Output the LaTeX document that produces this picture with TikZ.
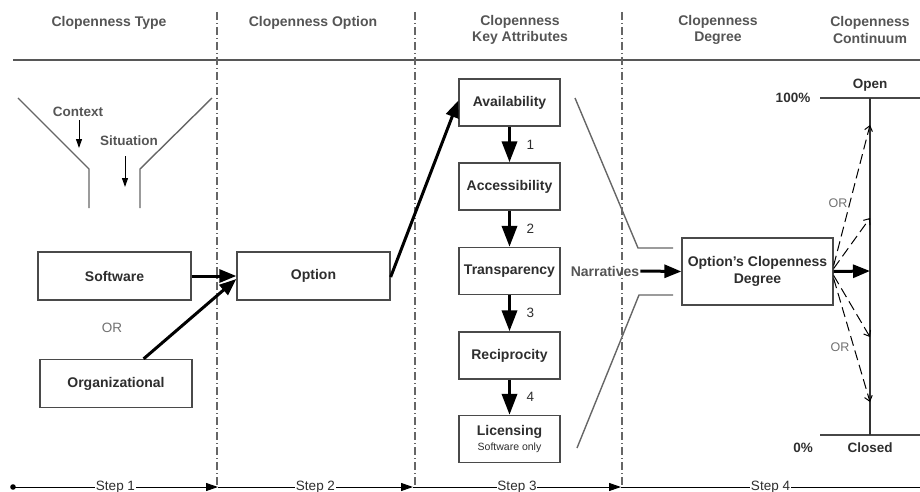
\documentclass[tikz,border=0pt]{standalone}
\usepackage{fontspec}
\setmainfont{Liberation Sans}
\usetikzlibrary{arrows.meta,calc}
\definecolor{hdr}{HTML}{555555}
\definecolor{boxtxt}{HTML}{2E2E2E}
\definecolor{boxline}{HTML}{4A4A4A}
\definecolor{ortxt}{HTML}{707070}
\definecolor{grayline}{HTML}{666666}
\begin{document}
\begin{tikzpicture}[x=1pt,y=-1pt,
  every node/.style={font=\fontsize{14}{16}\selectfont},
  hdrtext/.style={text=hdr,font=\fontsize{14}{16.5}\selectfont\bfseries,align=center},
  box/.style={draw=boxline,line width=1.3pt,fill=white,text=boxtxt,font=\fontsize{14}{16}\selectfont\bfseries,inner sep=0pt,align=center},
  ortext/.style={text=ortxt,font=\fontsize{13.5}{15}\selectfont},
  plain/.style={text=boxtxt,font=\fontsize{13.5}{15}\selectfont},
  bigarrow/.style={line width=3pt,-{Triangle[length=17pt,width=13pt]}},
  vertarrow/.style={line width=3.5pt,-{Triangle[length=21pt,width=15pt]}},
  dasharrow/.style={line width=1pt,dash pattern=on 10pt off 5pt,-{Straight Barb[length=5pt,width=8pt]}},
  divider/.style={grayline,line width=1.1pt,dash pattern=on 8pt off 3pt on 1pt off 3pt},
  steparrow/.style={line width=1pt,-{Triangle[length=12pt,width=8pt]}},
  steplabel/.style={fill=white,inner sep=0.5pt,text=boxtxt,font=\fontsize{13.5}{15}\selectfont},
  gline/.style={grayline,line width=1.4pt}]
\useasboundingbox (0,0) rectangle (920,492);

% header texts
\node[hdrtext] (h1) at (109,23) {Clopenness Type};
\node[hdrtext] (h2) at (313,23) {Clopenness Option};
\node[hdrtext] (h3) at (520,30) {Clopenness\\Key Attributes};
\node[hdrtext] (h4) at (718,30) {Clopenness\\Degree};
\node[hdrtext] (h5) at (870,30) {Clopenness\\Continuum};
\draw[grayline!85!black,line width=2pt] (13,60) -- (920,60);

% dividers
\draw[divider] (217,12) -- (217,487);
\draw[divider] (415,12) -- (415,487);
\draw[divider] (622,12) -- (622,487);

% funnel
\draw[gline] (18,98) -- (89,169) -- (89,208);
\draw[gline] (212,98) -- (140,169) -- (140,208);
\node[plain,font=\fontsize{13.5}{15}\selectfont\bfseries,text=hdr] (ctx) at (78,112) {Context};
\node[plain,font=\fontsize{13.5}{15}\selectfont\bfseries,text=hdr] (sit) at (129,141) {Situation};
\coordinate (ctxend) at (79,148);
\coordinate (sitstart) at (125,156);
\coordinate (sitend) at (125,187);
\draw[line width=1pt,-{Triangle[length=9pt,width=6pt]}] (ctx.south -| ctxend) -- (ctxend);
\draw[line width=1pt,-{Triangle[length=9pt,width=6pt]}] (sitstart) -- (sitend);

% type boxes
\node[box,minimum width=153pt,minimum height=48pt] (sw) at (114.5,276) {Software};
\node[ortext] (or1) at (112,328) {OR};
\node[box,minimum width=152pt,minimum height=48pt] (org) at (116,383.5) {Organizational};

% option
\node[box,minimum width=153pt,minimum height=48pt] (opt) at (313.5,276) {Option};

% key attributes
\node[box,minimum width=101pt,minimum height=47pt] (av) at (509.5,102.5) {Availability};
\node[box,minimum width=101pt,minimum height=47pt] (acc) at (509.5,186.5) {Accessibility};
\node[box,minimum width=101pt,minimum height=47pt] (tr) at (509.5,271) {Transparency};
\node[box,minimum width=101pt,minimum height=47pt] (rec) at (509.5,355.5) {Reciprocity};
\node[box,minimum width=101pt,minimum height=47pt] (lic) at (509.5,439) {Licensing\\[-1pt]{\fontsize{10.5}{12}\selectfont\mdseries Software only}};

\draw[vertarrow] (av.south) -- (acc.north) node[midway,right=12pt,plain] (n1) {1};
\draw[vertarrow] (acc.south) -- (tr.north) node[midway,right=12pt,plain] (n2) {2};
\draw[vertarrow] (tr.south) -- (rec.north) node[midway,right=12pt,plain] (n3) {3};
\draw[vertarrow] (rec.south) -- (lic.north) node[midway,right=12pt,plain] (n4) {4};

% arrows type -> option -> availability
\draw[bigarrow] (sw.east) -- (opt.west);
\coordinate (orgtop) at ($(org.north west)!0.68!(org.north east)$);
\draw[bigarrow] (orgtop) -- ([yshift=-3pt]opt.west);
\draw[bigarrow] ([yshift=-1pt]opt.east) -- ([yshift=2pt]av.west);

% brackets
\draw[gline] (575,98) -- (638,248) -- (673,248);
\draw[gline] (673,295) -- (639,295) -- (577,448);

% degree
\node[box,minimum width=151pt,minimum height=67pt,font=\fontsize{14}{16.5}\selectfont\bfseries] (ocd) at (757.5,271.5) {Option’s Clopenness\\Degree};
\node[plain,font=\fontsize{14}{16}\selectfont\bfseries,text=hdr,inner sep=1pt] (nar) at (605,271) {Narratives};
\draw[line width=3pt,-{Triangle[length=17pt,width=13pt]}] (nar.east) -- (ocd.west);

% continuum
\coordinate (ctop) at (870,98);
\coordinate (cbot) at (870,435);
\coordinate (cmid) at (870,271);
\draw[grayline!70!black,line width=1.3pt] (820,98) -- (920,98);
\draw[grayline!70!black,line width=1.3pt] (820,435) -- (920,435);
\draw[grayline!50!black,line width=1.3pt] (ctop) -- (cbot);
\node[plain,font=\fontsize{13.5}{15}\selectfont\bfseries] (open) at (870,85) {Open};
\node[plain,font=\fontsize{13.5}{15}\selectfont\bfseries] (p100) at (793,98) {100\%};
\node[plain,font=\fontsize{13.5}{15}\selectfont\bfseries] (closed) at (870,448) {Closed};
\node[plain,font=\fontsize{13.5}{15}\selectfont\bfseries] (p0) at (803,448) {0\%};
\draw[line width=3pt,-{Triangle[length=17pt,width=13pt]}] (ocd.east) -- (cmid);

\coordinate (a1) at (870,125);
\coordinate (a2) at (870,218);
\coordinate (a3) at (870,337);
\coordinate (a4) at (870,402);
\draw[dasharrow] ([yshift=6pt]ocd.east) -- (a1);
\draw[dasharrow] ([yshift=3pt]ocd.east) -- (a2);
\draw[dasharrow] ([yshift=-4pt]ocd.east) -- (a3);
\draw[dasharrow] ([yshift=-7pt]ocd.east) -- (a4);
\node[ortext,font=\fontsize{12.5}{14}\selectfont] (or2) at (838,203) {OR};
\node[ortext,font=\fontsize{12.5}{14}\selectfont] (or3) at (840,347) {OR};

% steps
\coordinate (s0) at (13,487);
\coordinate (s1) at (218,487);
\coordinate (s2) at (413,487);
\coordinate (s3) at (621,487);
\coordinate (s4) at (920,487);
\fill (s0) circle (2.8pt);
\draw[steparrow] (s0) -- (s1) node[midway,steplabel] (st1) {Step 1};
\draw[steparrow] (s1) -- (s2) node[midway,steplabel] (st2) {Step 2};
\draw[steparrow] (s2) -- (s3) node[midway,steplabel] (st3) {Step 3};
\draw[line width=1pt] (s3) -- (s4) node[midway,steplabel] (st4) {Step 4};
\end{tikzpicture}
\end{document}
